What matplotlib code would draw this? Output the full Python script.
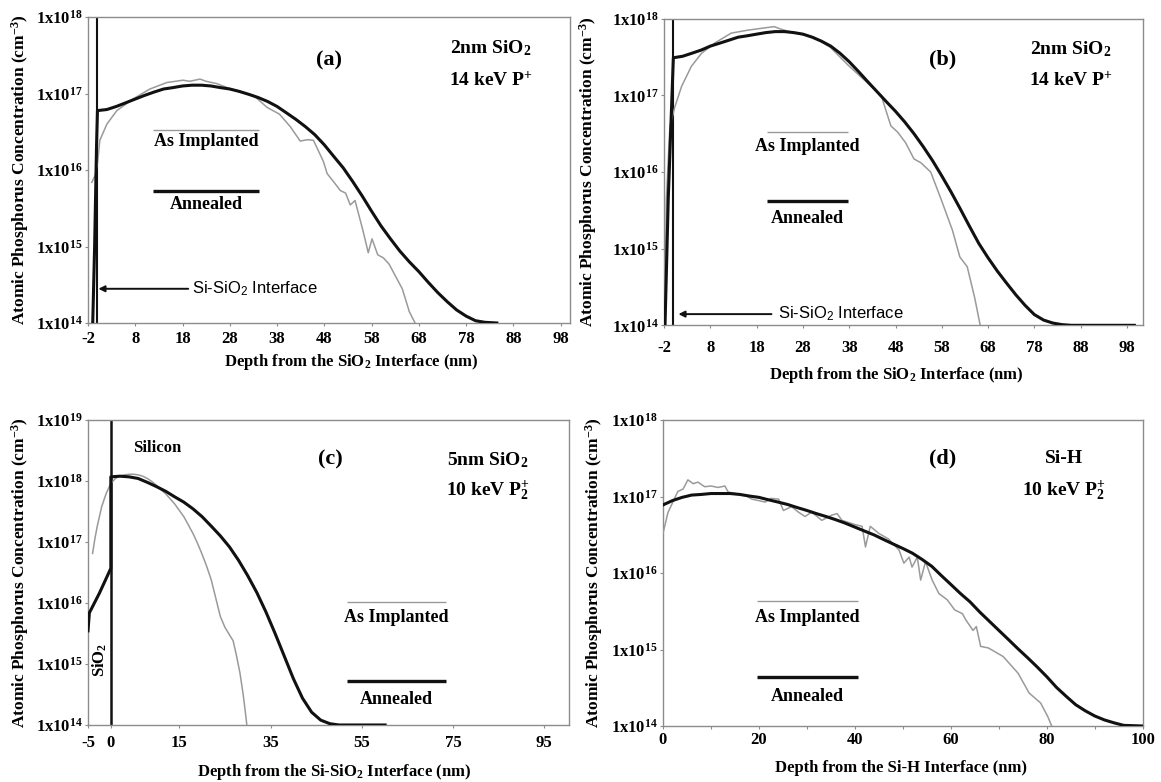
import math
import matplotlib
matplotlib.use("Agg")
import matplotlib.pyplot as plt
from matplotlib.ticker import FixedLocator, FuncFormatter, NullFormatter

plt.rcParams['font.family'] = ['Liberation Serif', 'DejaVu Serif']
plt.rcParams['font.weight'] = 'bold'
plt.rcParams['mathtext.fontset'] = 'custom'
plt.rcParams['mathtext.rm'] = 'Liberation Serif:bold'
plt.rcParams['mathtext.bf'] = 'Liberation Serif:bold'
plt.rcParams['mathtext.it'] = 'Liberation Serif:italic:bold'
plt.rcParams['mathtext.sf'] = 'Liberation Sans:weight=normal'

# ---------------- data (depth in nm, concentration in cm^-3) ----------------
# Panel (a): 2nm SiO2, 14 keV P+
a_imp_x = [-1.2, -0.5, 0.0, 0.5, 2.0, 4.1, 7.5, 11.1, 14.7, 16.5, 18.1, 19.5, 21.7, 23.0,
           25.3, 28.7, 33.0, 35.9, 38.5, 40.8, 42.9, 44.5, 45.7, 47.8, 48.6, 50.0, 51.4,
           52.5, 53.5, 54.5, 56.2, 57.3, 58.1, 59.3, 60.5, 61.7, 62.8, 64.5, 66.0, 67.2]
a_imp_y = [6.9e15, 8.5e15, 1.2e16, 2.45e16, 4.0e16, 6.0e16, 8.5e16, 1.15e17, 1.4e17, 1.45e17,
           1.5e17, 1.45e17, 1.55e17, 1.45e17, 1.35e17, 1.12e17, 9.5e16, 6.6e16, 5.4e16, 3.7e16,
           2.4e16, 2.5e16, 2.45e16, 1.3e16, 9.0e15, 7.0e15, 5.4e15, 5.0e15, 3.5e15, 4.0e15,
           1.6e15, 8.3e14, 1.26e15, 7.8e14, 7.1e14, 5.9e14, 4.4e14, 2.8e14, 1.4e14, 1.0e14]
a_ann_x = [-1.0, -0.6, -0.2, 0, 2, 4, 6, 8, 10, 12, 14, 16, 18, 20, 22, 24, 26, 28, 30, 32,
           34, 36, 38, 40, 42, 44, 46, 48, 50, 52, 54, 56, 58, 60, 62, 64, 66, 68, 70, 72,
           74, 76, 78, 80, 82, 84.5]
a_ann_y = [1.0e14, 1.0e15, 2.0e16, 6.0e16, 6.2e16, 6.8e16, 7.6e16, 8.5e16, 9.5e16, 1.05e17,
           1.15e17, 1.2e17, 1.26e17, 1.29e17, 1.29e17, 1.26e17, 1.2e17, 1.15e17, 1.07e17,
           9.8e16, 8.9e16, 7.9e16, 6.8e16, 5.6e16, 4.6e16, 3.7e16, 2.9e16, 2.14e16, 1.51e16,
           1.07e16, 7.1e15, 4.6e15, 2.9e15, 1.86e15, 1.26e15, 8.7e14, 6.3e14, 4.7e14, 3.4e14,
           2.5e14, 1.9e14, 1.48e14, 1.23e14, 1.07e14, 1.02e14, 1.0e14]

# Panel (b): 2nm SiO2, 14 keV P+
b_imp_x = [-1.9, -1.5, -0.75, 0.33, 1.8, 3.9, 6.1, 8.9, 12.5, 16.1, 19.7, 21.8, 23.0, 24.7,
           27.5, 30.4, 34.0, 37.7, 41.3, 44.9, 47.0, 48.5, 50.2, 52.0, 53.5, 55.6, 57.8,
           60.3, 61.9, 63.5, 65.1, 66.3]
b_imp_y = [1.0e14, 4.5e15, 3.9e16, 7.1e16, 1.32e17, 2.4e17, 3.55e17, 4.8e17, 6.5e17, 7.1e17,
           7.6e17, 7.9e17, 7.4e17, 6.9e17, 6.3e17, 5.75e17, 4.2e17, 2.5e17, 1.58e17, 1.0e17,
           4.0e16, 3.3e16, 2.4e16, 1.48e16, 1.32e16, 1.0e16, 4.5e15, 1.74e15, 7.8e14, 5.8e14,
           2.3e14, 1.0e14]
b_ann_x = [-1.8, -1.1, 0, 2, 4, 6, 8, 10, 12, 14, 16, 18, 20, 22, 24, 26, 28, 30, 32, 34,
           36, 38, 40, 42, 44, 46, 48, 50, 52, 54, 56, 58, 60, 62, 64, 66, 68, 70, 72, 74,
           76, 78, 80, 82, 84, 86, 99.6]
b_ann_y = [1.0e14, 4.5e15, 3.1e17, 3.24e17, 3.55e17, 3.9e17, 4.4e17, 4.8e17, 5.25e17,
           5.75e17, 6.0e17, 6.3e17, 6.6e17, 6.8e17, 6.8e17, 6.6e17, 6.3e17, 5.75e17, 5.1e17,
           4.4e17, 3.55e17, 2.75e17, 2.05e17, 1.51e17, 1.12e17, 8.3e16, 6.2e16, 4.5e16,
           3.16e16, 2.14e16, 1.41e16, 8.9e15, 5.5e15, 3.3e15, 1.95e15, 1.17e15, 7.6e14,
           5.1e14, 3.55e14, 2.5e14, 1.82e14, 1.38e14, 1.17e14, 1.07e14, 1.02e14, 1.0e14,
           1.0e14]

# Panel (c): 5nm SiO2, 10 keV P2+
c_imp_x = [-4.0, -3.5, -3.0, -2.0, -1.0, 0, 1, 2, 3, 4, 5, 6, 7, 8, 9, 10, 11, 12, 13, 14,
           15, 16, 17, 18, 19, 20, 21, 22, 23, 24, 25, 26, 26.8, 27.5, 28.3, 29.0, 29.5, 29.8]
c_imp_y = [6.5e16, 1.12e17, 1.78e17, 3.8e17, 6.3e17, 9.1e17, 1.1e18, 1.2e18, 1.26e18,
           1.29e18, 1.29e18, 1.26e18, 1.2e18, 1.1e18, 9.8e17, 8.5e17, 7.2e17, 6.2e17, 5.1e17,
           4.2e17, 3.3e17, 2.6e17, 1.9e17, 1.38e17, 9.5e16, 6.3e16, 4.0e16, 2.4e16, 1.2e16,
           6.0e15, 4.0e15, 3.0e15, 2.4e15, 1.41e15, 7.1e14, 3.16e14, 1.58e14, 1.0e14]
c_ann_x = [-5.0, -4.7, -2.5, 0, 0, 2, 4, 6, 8, 10, 12, 14, 16, 18, 20, 22, 24, 26, 28, 30,
           32, 34, 36, 38, 40, 42, 44, 46, 48, 50, 60.1]
c_ann_y = [3.5e15, 6.9e15, 1.45e16, 3.7e16, 1.17e18, 1.2e18, 1.17e18, 1.1e18, 9.5e17,
           8.1e17, 6.8e17, 5.5e17, 4.5e17, 3.5e17, 2.6e17, 1.82e17, 1.26e17, 8.3e16, 5.0e16,
           2.8e16, 1.48e16, 7.1e15, 3.16e15, 1.35e15, 5.75e14, 2.75e14, 1.62e14, 1.2e14,
           1.05e14, 1.0e14, 1.0e14]

# Panel (d): Si-H, 10 keV P2+
d_imp_x = [0.0, 1.05, 3.1, 4.2, 5.2, 6.3, 7.3, 8.7, 10.0, 11.5, 12.9, 13.6, 15.0, 17.1, 18.5,
           19.9, 21.3, 22.5, 24.1, 25.1, 26.8, 28.2, 29.6, 31.0, 33.1, 35.2, 36.3, 37.3, 40.1,
           41.5, 42.2, 43.2, 45.0, 47.0, 49.2, 50.2, 51.3, 51.9, 53.0, 53.7, 54.7, 56.1, 57.5,
           59.2, 60.8, 62.4, 63.1, 64.6, 65.3, 66.2, 67.8, 70.9, 74.0, 76.3, 78.7, 80.2, 81.0]
d_imp_y = [3.3e16, 6.2e16, 1.17e17, 1.26e17, 1.66e17, 1.48e17, 1.55e17, 1.35e17, 1.38e17,
           1.32e17, 1.38e17, 1.15e17, 1.1e17, 1.05e17, 9.3e16, 8.9e16, 8.5e16, 9.5e16, 9.3e16,
           6.6e16, 7.4e16, 6.3e16, 5.5e16, 6.3e16, 4.9e16, 5.75e16, 6.0e16, 4.9e16, 4.3e16,
           4.1e16, 2.2e16, 4.1e16, 3.3e16, 2.8e16, 2.0e16, 1.35e16, 1.62e16, 1.2e16, 1.62e16,
           8.1e15, 1.41e16, 8.1e15, 5.4e15, 4.5e15, 3.3e15, 2.95e15, 2.45e15, 1.78e15, 2.0e15,
           1.1e15, 1.05e15, 8.1e14, 4.9e14, 2.7e14, 2.0e14, 1.32e14, 1.0e14]
d_ann_x = [0, 2, 4, 6, 8, 10, 12, 14, 16, 18, 20, 22, 24, 26, 28, 30, 32, 34, 36, 38, 40,
           42, 44, 46, 48, 50, 52, 54, 56, 58, 60, 62, 64, 66, 68, 70, 72, 74, 76, 78, 80,
           82, 84, 86, 88, 90, 92, 94, 96, 100]
d_ann_y = [7.8e16, 8.9e16, 9.8e16, 1.05e17, 1.07e17, 1.1e17, 1.1e17, 1.1e17, 1.07e17,
           1.02e17, 9.8e16, 9.1e16, 8.5e16, 7.9e16, 7.2e16, 6.6e16, 6.0e16, 5.5e16, 5.0e16,
           4.5e16, 4.0e16, 3.55e16, 3.16e16, 2.75e16, 2.4e16, 2.1e16, 1.82e16, 1.51e16,
           1.23e16, 9.3e15, 7.1e15, 5.4e15, 4.2e15, 3.1e15, 2.35e15, 1.78e15, 1.35e15,
           1.02e15, 7.8e14, 5.9e14, 4.4e14, 3.2e14, 2.45e14, 1.9e14, 1.58e14, 1.35e14,
           1.2e14, 1.1e14, 1.02e14, 1.0e14]

# tick labels
ab_xticks = [-2, 8, 18, 28, 38, 48, 58, 68, 78, 88, 98]
c_xticks = [-5, 0, 15, 35, 55, 75, 95]
d_xticks = [0, 20, 40, 60, 80, 100]
d_xminor = [10, 30, 50, 70, 90]

GRAY = '#9a9a9a'
BLACK = '#111111'
SPINE = '#8c8c8c'

fig = plt.figure(figsize=(11.61, 7.82), dpi=100)
axA = fig.add_axes([0.0758, 0.587, 0.4152, 0.391])
axB = fig.add_axes([0.5720, 0.584, 0.4126, 0.392])
axC = fig.add_axes([0.0758, 0.0729, 0.4147, 0.390])
axD = fig.add_axes([0.5710, 0.0716, 0.4134, 0.391])

ylab = 'Atomic Phosphorus Concentration (cm$^{-3}$)'
yfmt = FuncFormatter(lambda v, p: r'1x10$^{%d}$' % round(math.log10(v)))


def style(ax, ylim, xlim, xticks, ylabel_x, xlabel, xlabel_pos, xpad):
    ax.set_yscale('log')
    ax.set_ylim(*ylim)
    ax.set_xlim(*xlim)
    lo, hi = [round(math.log10(v)) for v in ylim]
    ax.yaxis.set_major_locator(FixedLocator([10.0 ** k for k in range(lo, hi + 1)]))
    ax.yaxis.set_minor_locator(FixedLocator([]))
    ax.yaxis.set_major_formatter(yfmt)
    ax.yaxis.set_minor_formatter(NullFormatter())
    ax.set_xticks(xticks)
    ax.set_xticklabels([str(t) for t in xticks])
    for s in ax.spines.values():
        s.set_color(SPINE)
        s.set_linewidth(1.0)
    ax.tick_params(axis='y', which='both', direction='out', length=2.5, width=0.8,
                   color=SPINE, pad=1.5, labelsize=12)
    ax.tick_params(axis='x', which='both', direction='out', length=2.5, width=0.8,
                   color=SPINE, pad=xpad, labelsize=12)
    ax.set_ylabel(ylab, fontsize=12.5, fontweight='bold')
    ax.yaxis.set_label_coords(ylabel_x, 0.5)
    ax.set_xlabel(xlabel, fontsize=12, fontweight='bold')
    ax.xaxis.set_label_coords(*xlabel_pos)


def legend(ax, x0, x1, y_imp, y_imp_t, y_ann, y_ann_t):
    ax.plot([x0, x1], [y_imp, y_imp], transform=ax.transAxes, color=GRAY, lw=1.0,
            solid_capstyle='butt')
    ax.text((x0 + x1) / 2, y_imp_t, 'As Implanted', transform=ax.transAxes,
            ha='center', va='center', fontsize=13, fontweight='bold')
    ax.plot([x0, x1], [y_ann, y_ann], transform=ax.transAxes, color=BLACK, lw=2.4,
            solid_capstyle='butt')
    ax.text((x0 + x1) / 2, y_ann_t, 'Annealed', transform=ax.transAxes,
            ha='center', va='center', fontsize=13, fontweight='bold')


def labels(ax, tag, tagpos, l1, l2, xpos, y1, y2):
    ax.text(tagpos[0], tagpos[1], tag, transform=ax.transAxes, ha='center', va='center',
            fontsize=16, fontweight='bold')
    ax.text(xpos, y1, l1, transform=ax.transAxes, ha='center', va='center',
            fontsize=14, fontweight='bold')
    ax.text(xpos, y2, l2, transform=ax.transAxes, ha='center', va='center',
            fontsize=14, fontweight='bold')


def interface_arrow(ax, tip_x, tail_x, text_x, y):
    ax.annotate('', xy=(tip_x, y), xytext=(tail_x, y),
                arrowprops=dict(arrowstyle='-|>', color=BLACK, lw=1.4, mutation_scale=9,
                                shrinkA=0, shrinkB=0))
    ax.text(text_x, y, r'Si-SiO$_\mathsf{2}$ Interface', ha='left', va='center',
            fontsize=12, fontfamily='Liberation Sans', fontweight='normal')


# ---- (a)
ax = axA
ax.plot(a_imp_x, a_imp_y, color=GRAY, lw=1.1, zorder=3)
ax.plot(a_ann_x, a_ann_y, color=BLACK, lw=2.2, zorder=4)
ax.axvline(0, color=BLACK, lw=1.5, zorder=2)
style(ax, (1e14, 1e18), (-2, 100), ab_xticks, -0.118,
      'Depth from the SiO$_2$ Interface (nm)', (0.546, -0.095), 3.5)
legend(ax, 0.135, 0.355, 0.631, 0.592, 0.431, 0.386)
labels(ax, '(a)', (0.50, 0.86), '2nm SiO$_2$', '14 keV P$^{+}$', 0.836, 0.899, 0.794)
interface_arrow(ax, 0.2, 19.2, 20.0, 2.8e14)

# ---- (b)
ax = axB
ax.plot(b_imp_x, b_imp_y, color=GRAY, lw=1.1, zorder=3)
ax.plot(b_ann_x, b_ann_y, color=BLACK, lw=2.2, zorder=4)
ax.axvline(0, color=BLACK, lw=1.5, zorder=2)
style(ax, (1e14, 1e18), (-2, 101.5), ab_xticks, -0.136,
      'Depth from the SiO$_2$ Interface (nm)', (0.484, -0.131), 8)
legend(ax, 0.215, 0.384, 0.63, 0.584, 0.406, 0.35)
labels(ax, '(b)', (0.582, 0.867), '2nm SiO$_2$', '14 keV P$^{+}$', 0.85, 0.90, 0.80)
interface_arrow(ax, 1.1, 21.2, 22.7, 1.4e14)

# ---- (c)
ax = axC
ax.plot(c_imp_x, c_imp_y, color=GRAY, lw=1.1, zorder=3)
ax.plot(c_ann_x, c_ann_y, color=BLACK, lw=2.2, zorder=4)
ax.axvline(0, color=BLACK, lw=1.8, zorder=2)
style(ax, (1e14, 1e19), (-5, 100.5), c_xticks, -0.118,
      'Depth from the Si-SiO$_2$ Interface (nm)', (0.512, -0.121), 5)
legend(ax, 0.537, 0.743, 0.403, 0.354, 0.144, 0.082)
labels(ax, '(c)', (0.503, 0.869), '5nm SiO$_2$', '10 keV P$_2^{+}$', 0.83, 0.869, 0.77)
ax.text(0.143, 0.908, 'Silicon', transform=ax.transAxes, ha='center', va='center',
        fontsize=12, fontweight='bold')
ax.text(0.025, 0.213, 'SiO$_2$', transform=ax.transAxes, ha='center', va='center',
        rotation=90, fontsize=12, fontweight='bold')

# ---- (d)
ax = axD
ax.plot(d_imp_x, d_imp_y, color=GRAY, lw=1.1, zorder=3)
ax.plot(d_ann_x, d_ann_y, color=BLACK, lw=2.2, zorder=4)
style(ax, (1e14, 1e18), (0, 100), d_xticks, -0.121,
      'Depth from the Si-H Interface (nm)', (0.495, -0.111), 1.5)
ax.set_xticks(d_xminor, minor=True)
legend(ax, 0.196, 0.406, 0.408, 0.356, 0.16, 0.098)
labels(ax, '(d)', (0.583, 0.876), 'Si-H', '10 keV P$_2^{+}$', 0.835, 0.876, 0.77)

fig.savefig('out.png', dpi=100)
